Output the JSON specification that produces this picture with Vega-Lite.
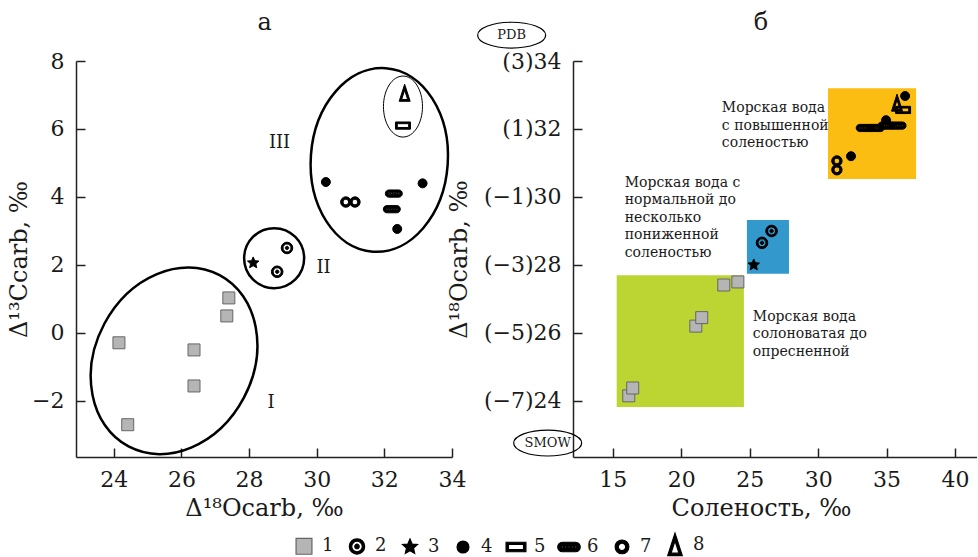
{
  "$schema": "https://vega.github.io/schema/vega-lite/v6.json",
  "padding": {"left": 7, "top": 10, "right": 0, "bottom": 0},
  "background": "white",
  "spacing": -19,
  "config": {
    "view": {"stroke": null},
    "font": "DejaVu Serif",
    "axis": {
      "labelFont": "DejaVu Serif", "labelFontSize": 22, "labelColor": "#1a1a1a",
      "titleFont": "DejaVu Serif", "titleFontSize": 24, "titleFontWeight": "normal", "titleColor": "#1a1a1a",
      "domainColor": "#222222", "domainWidth": 1.5, "tickColor": "#222222", "tickWidth": 1.5,
      "tickSize": -9, "labelPadding": 21, "grid": false, "labelFlush": false, "labelOverlap": false
    }
  },
  "datasets": {
    "pa": [
      {"x": 24.15, "y": -0.29, "type": "1"},
      {"x": 24.41, "y": -2.7, "type": "1"},
      {"x": 26.37, "y": -0.5, "type": "1"},
      {"x": 26.37, "y": -1.56, "type": "1"},
      {"x": 27.34, "y": 0.5, "type": "1"},
      {"x": 27.4, "y": 1.03, "type": "1"},
      {"x": 29.12, "y": 2.5, "type": "2"},
      {"x": 28.83, "y": 1.8, "type": "2"},
      {"x": 28.12, "y": 2.06, "type": "3"},
      {"x": 30.27, "y": 4.44, "type": "4"},
      {"x": 33.13, "y": 4.4, "type": "4"},
      {"x": 32.38, "y": 3.06, "type": "4"},
      {"x": 32.55, "y": 6.1, "type": "5"},
      {"x": 32.28, "y": 4.1, "type": "6"},
      {"x": 32.22, "y": 3.64, "type": "6"},
      {"x": 30.86, "y": 3.85, "type": "7"},
      {"x": 31.13, "y": 3.85, "type": "7"},
      {"x": 32.6, "y": 7.05, "type": "8"}
    ],
    "pb": [
      {"x": 23.11, "y": 27.41, "type": "1"},
      {"x": 24.14, "y": 27.5, "type": "1"},
      {"x": 21.07, "y": 26.2, "type": "1"},
      {"x": 21.5, "y": 26.45, "type": "1"},
      {"x": 16.17, "y": 24.15, "type": "1"},
      {"x": 16.46, "y": 24.38, "type": "1"},
      {"x": 25.9, "y": 28.65, "type": "2"},
      {"x": 26.6, "y": 29.0, "type": "2"},
      {"x": 25.3, "y": 28.0, "type": "3"},
      {"x": 32.4, "y": 31.2, "type": "4"},
      {"x": 34.96, "y": 32.26, "type": "4"},
      {"x": 36.35, "y": 32.97, "type": "4"},
      {"x": 36.2, "y": 32.56, "type": "5"},
      {"x": 33.4, "y": 32.03, "type": "6"},
      {"x": 34.2, "y": 32.03, "type": "6"},
      {"x": 35.0, "y": 32.1, "type": "6"},
      {"x": 35.8, "y": 32.1, "type": "6"},
      {"x": 31.37, "y": 31.06, "type": "7"},
      {"x": 31.37, "y": 30.8, "type": "7"},
      {"x": 35.76, "y": 32.76, "type": "8"}
    ]
  },
  "hconcat": [
    {
      "width": 376, "height": 396,
      "layer": [
        {
          "data": {"values": [{"x": 25.78, "y": -0.82}]},
          "mark": {"type": "point", "shape": "M0,-1C0.4496,-1 0.814,-0.5523 0.814,0C0.814,0.5523 0.4496,1 0,1C-0.4496,1 -0.814,0.5523 -0.814,0C-0.814,-0.5523 -0.4496,-1 0,-1Z", "size": 37636, "angle": 28, "filled": false, "stroke": "black", "strokeWidth": 2.5, "opacity": 1},
          "encoding": {
            "x": {"field": "x", "type": "quantitative", "scale": {"domain": [22.88, 34], "nice": false, "zero": false}, "axis": {"values": [24, 26, 28, 30, 32, 34], "title": "Δ¹⁸Ocarb, ‰", "titlePadding": 6}},
            "y": {"field": "y", "type": "quantitative", "scale": {"domain": [-3.65, 8], "nice": false, "zero": false}, "axis": {"values": [-2, 0, 2, 4, 6, 8], "title": "Δ¹³Ccarb, ‰", "titlePadding": 0}}
          }
        },
        {
          "data": {"values": [{"x": 28.74, "y": 2.2}]},
          "mark": {"type": "point", "shape": "M0,-1C0.5523,-1 1,-0.5523 1,0C1,0.5523 0.5523,1 0,1C-0.5523,1 -1,0.5523 -1,0C-1,-0.5523 -0.5523,-1 0,-1Z", "size": 3600, "filled": false, "stroke": "black", "strokeWidth": 2.5, "opacity": 1},
          "encoding": {"x": {"field": "x", "type": "quantitative"}, "y": {"field": "y", "type": "quantitative"}}
        },
        {
          "data": {"values": [{"x": 31.85, "y": 5.09}]},
          "mark": {"type": "point", "shape": "M0,-1C0.4115,-1 0.745,-0.5523 0.745,0C0.745,0.5523 0.4115,1 0,1C-0.4115,1 -0.745,0.5523 -0.745,0C-0.745,-0.5523 -0.4115,-1 0,-1Z", "size": 33856, "angle": 4, "filled": false, "stroke": "black", "strokeWidth": 2.5, "opacity": 1},
          "encoding": {"x": {"field": "x", "type": "quantitative"}, "y": {"field": "y", "type": "quantitative"}}
        },
        {
          "data": {"values": [{"x": 32.55, "y": 6.66}]},
          "mark": {"type": "point", "shape": "M0,-1C0.3535,-1 0.64,-0.5523 0.64,0C0.64,0.5523 0.3535,1 0,1C-0.3535,1 -0.64,0.5523 -0.64,0C-0.64,-0.5523 -0.3535,-1 0,-1Z", "size": 3721, "filled": false, "stroke": "black", "strokeWidth": 1, "opacity": 1},
          "encoding": {"x": {"field": "x", "type": "quantitative"}, "y": {"field": "y", "type": "quantitative"}}
        },
        {
          "data": {"values": [{"x": 28.9, "y": 5.59, "t": "III"}, {"x": 30.2, "y": 1.9, "t": "II"}, {"x": 28.65, "y": -2.06, "t": "I"}]},
          "mark": {"type": "text", "font": "DejaVu Serif", "fontSize": 18, "color": "#1a1a1a"},
          "encoding": {"x": {"field": "x", "type": "quantitative"}, "y": {"field": "y", "type": "quantitative"}, "text": {"field": "t"}}
        },
        {
          "data": {"values": [{"x": 28.46, "y": 9.12, "t": "а"}]},
          "mark": {"type": "text", "font": "DejaVu Serif", "fontSize": 24, "color": "#1a1a1a", "baseline": "middle"},
          "encoding": {"x": {"field": "x", "type": "quantitative"}, "y": {"field": "y", "type": "quantitative"}, "text": {"field": "t"}}
        },
        {
          "data": {"name": "pa"},
          "mark": {"type": "point", "filled": true, "size": 400, "opacity": 1, "strokeWidth": 1},
          "encoding": {
            "x": {"field": "x", "type": "quantitative"},
            "y": {"field": "y", "type": "quantitative"},
            "shape": {"field": "type", "type": "nominal", "scale": {"domain": ["1","2","3","4","5","6","7","8"], "range": [
              "M-0.6,-0.6L0.6,-0.6L0.6,0.6L-0.6,0.6Z",
              "M0,-0.58C0.3203,-0.58 0.58,-0.3203 0.58,0C0.58,0.3203 0.3203,0.58 0,0.58C-0.3203,0.58 -0.58,0.3203 -0.58,0C-0.58,-0.3203 -0.3203,-0.58 0,-0.58ZM0,-0.4C-0.2209,-0.4 -0.4,-0.2209 -0.4,0C-0.4,0.2209 -0.2209,0.4 0,0.4C0.2209,0.4 0.4,0.2209 0.4,0C0.4,-0.2209 0.2209,-0.4 0,-0.4ZM0,-0.17C0.0939,-0.17 0.17,-0.0939 0.17,0C0.17,0.0939 0.0939,0.17 0,0.17C-0.0939,0.17 -0.17,0.0939 -0.17,0C-0.17,-0.0939 -0.0939,-0.17 0,-0.17Z",
              "M0,-0.6L0.1646,-0.2265L0.5706,-0.1854L0.2663,0.0865L0.3527,0.4854L0,0.28L-0.3527,0.4854L-0.2663,0.0865L-0.5706,-0.1854L-0.1646,-0.2265Z",
              "M0,-0.45C0.2485,-0.45 0.45,-0.2485 0.45,0C0.45,0.2485 0.2485,0.45 0,0.45C-0.2485,0.45 -0.45,0.2485 -0.45,0C-0.45,-0.2485 -0.2485,-0.45 0,-0.45Z",
              "M-0.75,-0.36L0.75,-0.36L0.75,0.36L-0.75,0.36ZM-0.57,-0.19L-0.57,0.19L0.57,0.19L0.57,-0.19Z",
              "M-0.5,-0.36L0.5,-0.36C0.7,-0.36 0.85,-0.2 0.85,0C0.85,0.2 0.7,0.36 0.5,0.36L-0.5,0.36C-0.7,0.36 -0.85,0.2 -0.85,0C-0.85,-0.2 -0.7,-0.36 -0.5,-0.36ZM-0.55,-0.07L-0.55,0.07L-0.41,0.07L-0.41,-0.07ZM-0.31,-0.07L-0.31,0.07L-0.17,0.07L-0.17,-0.07ZM-0.07,-0.07L-0.07,0.07L0.07,0.07L0.07,-0.07ZM0.17,-0.07L0.17,0.07L0.31,0.07L0.31,-0.07ZM0.41,-0.07L0.41,0.07L0.55,0.07L0.55,-0.07Z",
              "M0,-0.52C0.2872,-0.52 0.52,-0.2872 0.52,0C0.52,0.2872 0.2872,0.52 0,0.52C-0.2872,0.52 -0.52,0.2872 -0.52,0C-0.52,-0.2872 -0.2872,-0.52 0,-0.52ZM0,-0.28C-0.1546,-0.28 -0.28,-0.1546 -0.28,0C-0.28,0.1546 -0.1546,0.28 0,0.28C0.1546,0.28 0.28,0.1546 0.28,0C0.28,-0.1546 0.1546,-0.28 0,-0.28Z",
              "M0,-0.9L0.55,0.8L-0.55,0.8ZM0,-0.315L-0.3025,0.62L0.3025,0.62Z"
            ]}, "legend": {"orient": "none", "legendX": 214, "legendY": 470, "direction": "horizontal", "columns": 8, "title": null, "symbolSize": 700, "labelFont": "DejaVu Serif", "labelFontSize": 18, "labelColor": "#1a1a1a", "labelOffset": 4, "columnPadding": 9, "padding": 0, "symbolStrokeWidth": 1.2}},
            "fill": {"field": "type", "type": "nominal", "scale": {"domain": ["1","2","3","4","5","6","7","8"], "range": ["#b5b5b5","black","black","black","black","black","black","black"]}, "legend": {"orient": "none", "legendX": 214, "legendY": 470, "direction": "horizontal", "columns": 8, "title": null, "symbolSize": 700, "labelFont": "DejaVu Serif", "labelFontSize": 18, "labelColor": "#1a1a1a", "labelOffset": 4, "columnPadding": 9, "padding": 0, "symbolStrokeWidth": 1.2}},
            "stroke": {"field": "type", "type": "nominal", "scale": {"domain": ["1","2","3","4","5","6","7","8"], "range": ["#666666","black","black","black","black","black","black","black"]}, "legend": {"orient": "none", "legendX": 214, "legendY": 470, "direction": "horizontal", "columns": 8, "title": null, "symbolSize": 700, "labelFont": "DejaVu Serif", "labelFontSize": 18, "labelColor": "#1a1a1a", "labelOffset": 4, "columnPadding": 9, "padding": 0, "symbolStrokeWidth": 1.2}}
          }
        }
      ]
    },
    {
      "width": 404, "height": 396,
      "layer": [
        {
          "data": {"values": [
            {"x": 15.29, "x2": 24.58, "y": 23.82, "y2": 27.7, "zone": "g"},
            {"x": 24.8, "x2": 27.87, "y": 27.74, "y2": 29.32, "zone": "b"},
            {"x": 30.72, "x2": 37.15, "y": 30.53, "y2": 33.2, "zone": "o"}
          ]},
          "mark": {"type": "rect"},
          "encoding": {
            "x": {"field": "x", "type": "quantitative", "scale": {"domain": [12.1, 41.6], "nice": false, "zero": false}, "axis": {"values": [15, 20, 25, 30, 35, 40], "title": "Соленость, ‰", "titlePadding": 6, "titleX": 188}},
            "x2": {"field": "x2"},
            "y": {"field": "y", "type": "quantitative", "scale": {"domain": [22.35, 34], "nice": false, "zero": false}, "axis": {"values": [24, 26, 28, 30, 32, 34], "title": "Δ¹⁸Ocarb, ‰", "titlePadding": 12, "labelExpr": "'(' + format(datum.value - 31, 'd') + ')' + datum.value"}},
            "y2": {"field": "y2"},
            "color": {"field": "zone", "type": "nominal", "scale": {"domain": ["g", "b", "o"], "range": ["#bdd532", "#3399cc", "#fcbd13"]}, "legend": null}
          }
        },
        {
          "data": {"values": [
            {"x": 22.97, "y": 32.82, "t": "Морская вода\nс повышенной\nсоленостью"},
            {"x": 15.88, "y": 30.62, "t": "Морская вода с\nнормальной до\nнесколько\nпониженной\nсоленостью"},
            {"x": 25.23, "y": 26.68, "t": "Морская вода\nсолоноватая до\nопресненной"}
          ]},
          "mark": {"type": "text", "align": "left", "baseline": "top", "lineBreak": "\n", "lineHeight": 17.5, "font": "DejaVu Serif", "fontSize": 14, "color": "#1a1a1a"},
          "encoding": {"x": {"field": "x", "type": "quantitative"}, "y": {"field": "y", "type": "quantitative"}, "text": {"field": "t"}}
        },
        {
          "data": {"values": [{"x": 25.82, "y": 35.12, "t": "б"}]},
          "mark": {"type": "text", "font": "DejaVu Serif", "fontSize": 24, "color": "#1a1a1a", "baseline": "middle"},
          "encoding": {"x": {"field": "x", "type": "quantitative"}, "y": {"field": "y", "type": "quantitative"}, "text": {"field": "t"}}
        },
        {
          "data": {"name": "pb"},
          "mark": {"type": "point", "filled": true, "size": 400, "opacity": 1, "strokeWidth": 1},
          "encoding": {
            "x": {"field": "x", "type": "quantitative"},
            "y": {"field": "y", "type": "quantitative"},
            "shape": {"field": "type", "type": "nominal", "scale": {"domain": ["1","2","3","4","5","6","7","8"], "range": [
              "M-0.6,-0.6L0.6,-0.6L0.6,0.6L-0.6,0.6Z",
              "M0,-0.58C0.3203,-0.58 0.58,-0.3203 0.58,0C0.58,0.3203 0.3203,0.58 0,0.58C-0.3203,0.58 -0.58,0.3203 -0.58,0C-0.58,-0.3203 -0.3203,-0.58 0,-0.58ZM0,-0.4C-0.2209,-0.4 -0.4,-0.2209 -0.4,0C-0.4,0.2209 -0.2209,0.4 0,0.4C0.2209,0.4 0.4,0.2209 0.4,0C0.4,-0.2209 0.2209,-0.4 0,-0.4ZM0,-0.17C0.0939,-0.17 0.17,-0.0939 0.17,0C0.17,0.0939 0.0939,0.17 0,0.17C-0.0939,0.17 -0.17,0.0939 -0.17,0C-0.17,-0.0939 -0.0939,-0.17 0,-0.17Z",
              "M0,-0.6L0.1646,-0.2265L0.5706,-0.1854L0.2663,0.0865L0.3527,0.4854L0,0.28L-0.3527,0.4854L-0.2663,0.0865L-0.5706,-0.1854L-0.1646,-0.2265Z",
              "M0,-0.45C0.2485,-0.45 0.45,-0.2485 0.45,0C0.45,0.2485 0.2485,0.45 0,0.45C-0.2485,0.45 -0.45,0.2485 -0.45,0C-0.45,-0.2485 -0.2485,-0.45 0,-0.45Z",
              "M-0.75,-0.36L0.75,-0.36L0.75,0.36L-0.75,0.36ZM-0.57,-0.19L-0.57,0.19L0.57,0.19L0.57,-0.19Z",
              "M-0.5,-0.36L0.5,-0.36C0.7,-0.36 0.85,-0.2 0.85,0C0.85,0.2 0.7,0.36 0.5,0.36L-0.5,0.36C-0.7,0.36 -0.85,0.2 -0.85,0C-0.85,-0.2 -0.7,-0.36 -0.5,-0.36ZM-0.55,-0.07L-0.55,0.07L-0.41,0.07L-0.41,-0.07ZM-0.31,-0.07L-0.31,0.07L-0.17,0.07L-0.17,-0.07ZM-0.07,-0.07L-0.07,0.07L0.07,0.07L0.07,-0.07ZM0.17,-0.07L0.17,0.07L0.31,0.07L0.31,-0.07ZM0.41,-0.07L0.41,0.07L0.55,0.07L0.55,-0.07Z",
              "M0,-0.52C0.2872,-0.52 0.52,-0.2872 0.52,0C0.52,0.2872 0.2872,0.52 0,0.52C-0.2872,0.52 -0.52,0.2872 -0.52,0C-0.52,-0.2872 -0.2872,-0.52 0,-0.52ZM0,-0.28C-0.1546,-0.28 -0.28,-0.1546 -0.28,0C-0.28,0.1546 -0.1546,0.28 0,0.28C0.1546,0.28 0.28,0.1546 0.28,0C0.28,-0.1546 0.1546,-0.28 0,-0.28Z",
              "M0,-0.9L0.55,0.8L-0.55,0.8ZM0,-0.315L-0.3025,0.62L0.3025,0.62Z"
            ]}, "legend": {"orient": "none", "legendX": 214, "legendY": 470, "direction": "horizontal", "columns": 8, "title": null, "symbolSize": 700, "labelFont": "DejaVu Serif", "labelFontSize": 18, "labelColor": "#1a1a1a", "labelOffset": 4, "columnPadding": 9, "padding": 0, "symbolStrokeWidth": 1.2}},
            "fill": {"field": "type", "type": "nominal", "scale": {"domain": ["1","2","3","4","5","6","7","8"], "range": ["#b5b5b5","black","black","black","black","black","black","black"]}, "legend": {"orient": "none", "legendX": 214, "legendY": 470, "direction": "horizontal", "columns": 8, "title": null, "symbolSize": 700, "labelFont": "DejaVu Serif", "labelFontSize": 18, "labelColor": "#1a1a1a", "labelOffset": 4, "columnPadding": 9, "padding": 0, "symbolStrokeWidth": 1.2}},
            "stroke": {"field": "type", "type": "nominal", "scale": {"domain": ["1","2","3","4","5","6","7","8"], "range": ["#666666","black","black","black","black","black","black","black"]}, "legend": {"orient": "none", "legendX": 214, "legendY": 470, "direction": "horizontal", "columns": 8, "title": null, "symbolSize": 700, "labelFont": "DejaVu Serif", "labelFontSize": 18, "labelColor": "#1a1a1a", "labelOffset": 4, "columnPadding": 9, "padding": 0, "symbolStrokeWidth": 1.2}}
          }
        },
        {
          "data": {"values": [{"x": 7.62, "y": 34.76, "t": "PDB"}, {"x": 10.25, "y": 22.76, "t": "SMOW"}]},
          "mark": {"type": "point", "shape": "M-1,0C-1,-0.2099 -0.5523,-0.38 0,-0.38C0.5523,-0.38 1,-0.2099 1,0C1,0.2099 0.5523,0.38 0,0.38C-0.5523,0.38 -1,0.2099 -1,0Z", "size": 4624, "filled": false, "stroke": "black", "strokeWidth": 1.2, "opacity": 1},
          "encoding": {"x": {"field": "x", "type": "quantitative"}, "y": {"field": "y", "type": "quantitative"}}
        },
        {
          "data": {"values": [{"x": 7.62, "y": 34.76, "t": "PDB"}, {"x": 10.25, "y": 22.76, "t": "SMOW"}]},
          "mark": {"type": "text", "font": "DejaVu Serif", "fontSize": 13, "color": "#1a1a1a"},
          "encoding": {"x": {"field": "x", "type": "quantitative"}, "y": {"field": "y", "type": "quantitative"}, "text": {"field": "t"}}
        }
      ]
    }
  ],
  "resolve": {"scale": {"x": "independent", "y": "independent"}}
}
